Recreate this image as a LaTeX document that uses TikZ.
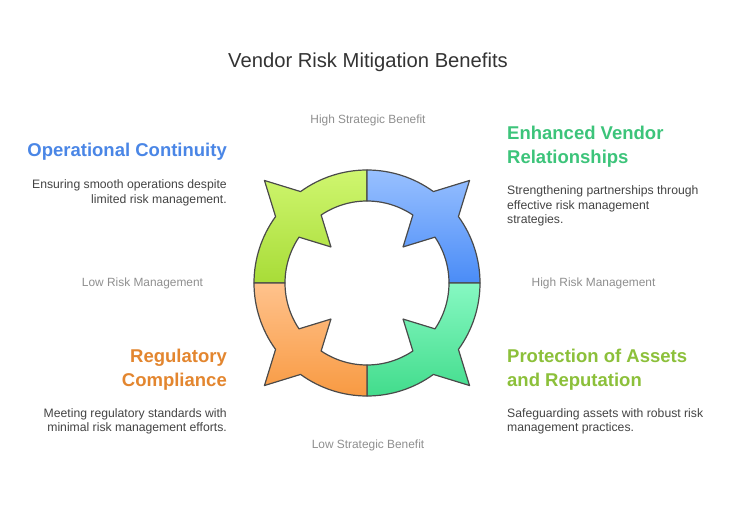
\documentclass[tikz,border=0pt]{standalone}
\usepackage{fontspec}
\setmainfont{Liberation Sans}
\usetikzlibrary{calc}
\definecolor{edgec}{HTML}{4A4A4A}
\definecolor{titlec}{HTML}{333333}
\definecolor{descc}{HTML}{444444}
\definecolor{axisc}{HTML}{8F8F8F}
\definecolor{hblue}{HTML}{4A86E6}
\definecolor{hgreen}{HTML}{3CC47A}
\definecolor{horange}{HTML}{E3862F}
\definecolor{hlime}{HTML}{8CC03A}
\definecolor{gtop}{HTML}{CFF66F}
\definecolor{gbot}{HTML}{A8DC38}
\definecolor{btop}{HTML}{98C0FF}
\definecolor{bbot}{HTML}{4A8CF7}
\definecolor{ttop}{HTML}{86F8C2}
\definecolor{tbot}{HTML}{42DC8C}
\definecolor{otop}{HTML}{FFC28C}
\definecolor{obot}{HTML}{F89A42}
\newcommand\ringpiece[3]{%
\pgfmathsetmacro\aA{#1+45}\pgfmathsetmacro\aB{#1+9}%
\pgfmathsetmacro\aC{#1-9}\pgfmathsetmacro\aD{#1-45}%
\pgfmathsetmacro\aE{#1-11}\pgfmathsetmacro\aF{#1+11}%
\path[piece, top color=#2, bottom color=#3]
 (\aA:113pt) arc[start angle=\aA, end angle=\aB, radius=113pt]
 -- (#1:145pt) -- (\aC:113pt)
 arc[start angle=\aC, end angle=\aD, radius=113pt]
 -- (\aD:82pt) arc[start angle=\aD, end angle=\aE, radius=82pt]
 -- (#1:51pt) -- (\aF:82pt)
 arc[start angle=\aF, end angle=\aA, radius=82pt] -- cycle;}
\begin{document}
\begin{tikzpicture}[x=1pt,y=-1pt,
 piece/.style={draw=edgec, line width=1.2pt, line join=round},
 titletext/.style={font=\fontsize{20.2}{24}\selectfont, text=titlec, inner sep=0pt},
 headtext/.style={font=\fontsize{18.5}{22}\selectfont\bfseries, inner sep=0pt},
 desctext/.style={font=\fontsize{12.2}{14}\selectfont, text=descc, inner sep=0pt},
 axistext/.style={font=\fontsize{11.9}{14}\selectfont, text=axisc, inner sep=0pt}]
\useasboundingbox (0,0) rectangle (735,518);
\fill[white] (0,0) rectangle (735,518);
\begin{scope}[shift={(367,283)}]
\ringpiece{135}{gtop}{gbot}
\ringpiece{45}{btop}{bbot}
\ringpiece{-45}{ttop}{tbot}
\ringpiece{225}{otop}{obot}
\end{scope}
\node[titletext, anchor=base] (title) at (368,68) {Vendor Risk Mitigation Benefits};
\node[axistext, anchor=base] (hsb) at (368,124) {High Strategic Benefit};
\node[axistext, anchor=base] (lsb) at (368,448) {Low Strategic Benefit};
\node[axistext, anchor=base] (lrm) at (142.5,287) {Low Risk Management};
\node[axistext, anchor=base] (hrm) at (593.5,287) {High Risk Management};
% top left
\node[headtext, text=hblue, anchor=base east] (oc1) at (227,157) {Operational Continuity};
\node[desctext, anchor=base east] (ocd1) at (227,189) {Ensuring smooth operations despite};
\node[desctext, anchor=base east] (ocd2) at (227,204) {limited risk management.};
% top right
\node[headtext, text=hgreen, anchor=base west] (ev1) at (507,140) {Enhanced Vendor};
\node[headtext, text=hgreen, anchor=base west] (ev2) at (507,164) {Relationships};
\node[desctext, anchor=base west] (evd1) at (507,195) {Strengthening partnerships through};
\node[desctext, anchor=base west] (evd2) at (507,209.5) {effective risk management};
\node[desctext, anchor=base west] (evd3) at (507,224) {strategies.};
% bottom left
\node[headtext, text=horange, anchor=base east] (rc1) at (227,362) {Regulatory};
\node[headtext, text=horange, anchor=base east] (rc2) at (227,386) {Compliance};
\node[desctext, anchor=base east] (rcd1) at (227,417) {Meeting regulatory standards with};
\node[desctext, anchor=base east] (rcd2) at (227,431) {minimal risk management efforts.};
% bottom right
\node[headtext, text=hlime, anchor=base west] (pa1) at (507,362) {Protection of Assets};
\node[headtext, text=hlime, anchor=base west] (pa2) at (507,386) {and Reputation};
\node[desctext, anchor=base west] (pad1) at (507,417) {Safeguarding assets with robust risk};
\node[desctext, anchor=base west] (pad2) at (507,431) {management practices.};
\end{tikzpicture}
\end{document}
